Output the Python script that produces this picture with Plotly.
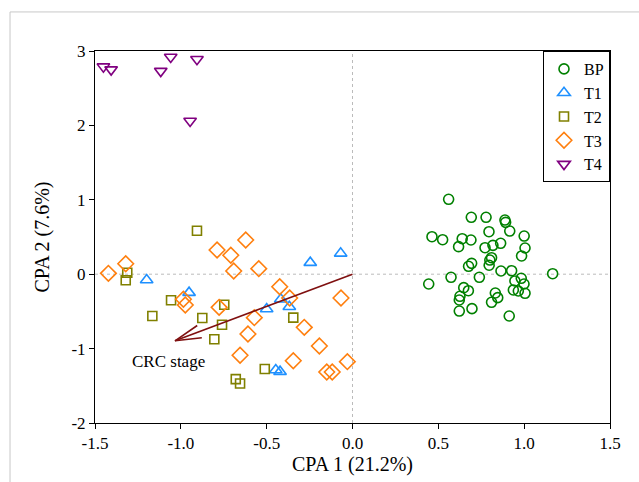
import math
import plotly.graph_objects as go

# ---- data ----
bp_x = [0.560, 0.692, 0.778, 0.888, 0.892, 0.916, 0.795, 1.000, 0.463, 0.525, 0.639, 0.690,
        0.618, 0.772, 0.818, 0.863, 1.005, 0.985, 0.810, 0.800, 0.796, 0.694, 0.676, 0.865,
        0.927, 1.166, 0.574, 0.739, 0.444, 0.983, 0.946, 0.999, 0.937, 0.966, 1.005, 0.648,
        0.675, 0.832, 0.846, 0.810, 0.626, 0.622, 0.622, 0.696, 0.913]
bp_y = [1.007, 0.765, 0.765, 0.728, 0.697, 0.580, 0.571, 0.513, 0.504, 0.464, 0.477, 0.460,
        0.370, 0.356, 0.388, 0.415, 0.352, 0.245, 0.222, 0.190, 0.120, 0.146, 0.106, 0.043,
        0.047, 0.007, -0.042, -0.042, -0.132, -0.055, -0.091, -0.132, -0.212, -0.226, -0.257,
        -0.181, -0.222, -0.253, -0.315, -0.378, -0.297, -0.347, -0.495, -0.463, -0.562]

t1_x = [-0.069, -0.246, -1.199, -0.952, -0.418, -0.500, -0.368, -0.447, -0.422]
t1_y = [0.280, 0.155, -0.078, -0.248, -0.337, -0.468, -0.437, -1.288, -1.310]

t2_x = [-0.906, -1.312, -1.321, -1.057, -0.747, -1.166, -0.875, -0.760, -0.345, -0.805,
        -0.511, -0.680, -0.655]
t2_y = [0.585, 0.020, -0.082, -0.351, -0.410, -0.562, -0.589, -0.679, -0.584, -0.875,
        -1.274, -1.410, -1.470]

t3_x = [-0.622, -0.789, -0.709, -0.692, -0.546, -1.422, -1.321, -0.424, -0.366, -0.985,
        -0.974, -0.777, -0.572, -0.281, -0.609, -0.067, -0.193, -0.655, -0.345, -0.030,
        -0.150, -0.118]
t3_y = [0.460, 0.325, 0.254, 0.043, 0.074, 0.012, 0.141, -0.168, -0.320, -0.337,
        -0.414, -0.445, -0.584, -0.714, -0.804, -0.320, -0.965, -1.090, -1.163, -1.176,
        -1.315, -1.315]

t4_x = [-1.451, -1.406, -1.059, -0.906, -1.117, -0.946]
t4_y = [2.79, 2.75, 2.92, 2.89, 2.73, 2.06]

arrow_x = [0.0, -1.034]
arrow_y = [0.0, -0.895]
arrow_label = "CRC stage"
label_x, label_y = -1.073, -1.176

x_ticks = [-1.5, -1.0, -0.5, 0.0, 0.5, 1.0, 1.5]
y_ticks = [-2, -1, 0, 1, 2, 3]

FONT = "Liberation Serif, Times New Roman, serif"
ARROW_COLOR = "#7F1010"

# plot geometry (for an open arrowhead drawn with equal pixel-length barbs)
W, H = 639, 482
M = dict(l=95, r=29, t=51, b=59)
XR, YR = [-1.5, 1.5], [-2, 3]
sx = (W - M["l"] - M["r"]) / (XR[1] - XR[0])
sy = (H - M["t"] - M["b"]) / (YR[1] - YR[0])

series = [
    ("BP", bp_x, bp_y, "circle-open", "#008000", 10),
    ("T1", t1_x, t1_y, "triangle-up-open", "#1E90FF", 11),
    ("T2", t2_x, t2_y, "square-open", "#808000", 9),
    ("T3", t3_x, t3_y, "diamond-open", "#FF7F0E", 12),
    ("T4", t4_x, t4_y, "triangle-down-open", "#800080", 11),
]

fig = go.Figure()

for name, xs, ys, sym, col, sz in series:
    fig.add_trace(go.Scatter(
        x=xs, y=ys, mode="markers", name=name,
        marker=dict(symbol=sym, size=sz, color=col, line=dict(color=col, width=1.6)),
    ))

# arrow shaft (drawn over the markers)
fig.add_trace(go.Scatter(x=arrow_x, y=arrow_y, mode="lines", showlegend=False, hoverinfo="skip",
                         line=dict(color=ARROW_COLOR, width=1.6)))
# open arrowhead: barbs rotated +-14 deg from the shaft, 27 px long
tipx, tipy = arrow_x[1], arrow_y[1]
vx = (arrow_x[0] - arrow_x[1]) * sx
vy = (arrow_y[0] - arrow_y[1]) * sy
n = math.hypot(vx, vy)
vx, vy = vx / n, vy / n
hx, hy = [], []
for ang in (14, -14):
    a = math.radians(ang)
    rx = vx * math.cos(a) - vy * math.sin(a)
    ry = vx * math.sin(a) + vy * math.cos(a)
    hx.append(tipx + 27 * rx / sx)
    hy.append(tipy + 27 * ry / sy)
fig.add_trace(go.Scatter(x=[hx[0], tipx, hx[1]], y=[hy[0], tipy, hy[1]], mode="lines",
                         showlegend=False, hoverinfo="skip",
                         line=dict(color=ARROW_COLOR, width=1.6)))

# dotted reference lines at zero
fig.add_shape(type="line", xref="x", yref="paper", x0=0, x1=0, y0=0, y1=1,
              line=dict(color="#BBBBBB", width=1, dash="dot"), layer="below")
fig.add_shape(type="line", xref="paper", yref="y", x0=0, x1=1, y0=0, y1=0,
              line=dict(color="#BBBBBB", width=1, dash="dot"), layer="below")

# outer light frame (left and top)
fig.add_shape(type="line", xref="paper", yref="paper", x0=-0.165, x1=-0.165, y0=-0.2, y1=1.105,
              line=dict(color="#C8C8C8", width=1))
fig.add_shape(type="line", xref="paper", yref="paper", x0=-0.165, x1=1.1, y0=1.105, y1=1.105,
              line=dict(color="#C8C8C8", width=1))

fig.add_annotation(x=label_x, y=label_y, xref="x", yref="y", text=arrow_label,
                   showarrow=False, font=dict(family=FONT, size=17, color="black"))

fig.update_xaxes(range=XR, tickvals=x_ticks, ticktext=[f"{v:.1f}" for v in x_ticks],
                 showgrid=False, zeroline=False, showline=True, linecolor="black", linewidth=1,
                 mirror=True, ticks="outside", ticklen=5, tickcolor="black",
                 tickfont=dict(family=FONT, size=17, color="black"),
                 title=dict(text="CPA 1 (21.2%)", font=dict(family=FONT, size=20, color="black"),
                            standoff=2))
fig.update_yaxes(range=YR, tickvals=y_ticks, ticktext=[str(v) for v in y_ticks],
                 showgrid=False, zeroline=False, showline=True, linecolor="black", linewidth=1,
                 mirror=True, ticks="outside", ticklen=5, tickcolor="black",
                 tickfont=dict(family=FONT, size=17, color="black"),
                 title=dict(text="CPA 2 (7.6%)", font=dict(family=FONT, size=20, color="black"),
                            standoff=16))

fig.update_layout(
    width=W, height=H,
    margin=M,
    plot_bgcolor="white", paper_bgcolor="white",
    font=dict(family=FONT, color="black"),
    legend=dict(x=1, y=1, xanchor="right", yanchor="top", bordercolor="black", borderwidth=1,
                bgcolor="rgba(255,255,255,0)", font=dict(family=FONT, size=16, color="black"),
                tracegroupgap=0, itemwidth=30),
)

fig.write_html("out.html")
